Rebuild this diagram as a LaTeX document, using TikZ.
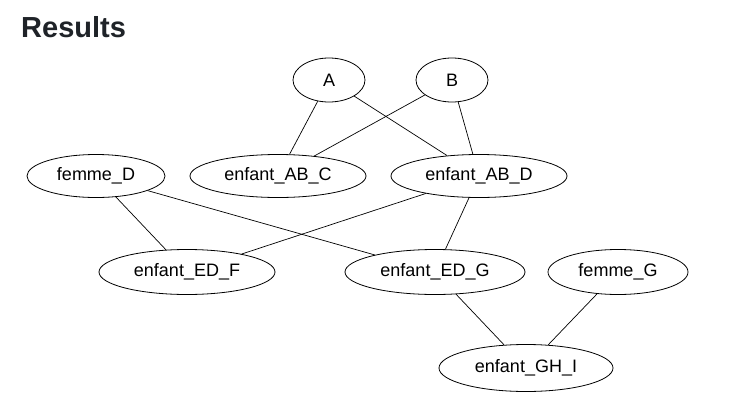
\documentclass[tikz,border=0pt]{standalone}
\usepackage{fontspec}
\setmainfont{Liberation Sans}
\usetikzlibrary{shapes.geometric}
\definecolor{titlecol}{HTML}{1F2328}
\begin{document}
\begin{tikzpicture}[x=1pt,y=-1pt,
  nd/.style={ellipse,draw,line width=0.8pt,inner sep=0pt,font=\fontsize{18}{20}\selectfont},
  ln/.style={line width=0.7pt}]
\useasboundingbox (0,0) rectangle (734,407);
\fill[white] (0,0) rectangle (734,407);
\node[anchor=base west,inner sep=0pt,text=titlecol,font=\fontsize{29}{32}\selectfont\bfseries] (title) at (21,37) {Results};
\node[nd,minimum width=72pt,minimum height=44pt] (A) at (329,80) {A};
\node[nd,minimum width=72pt,minimum height=44pt] (B) at (452,80) {B};
\node[nd,minimum width=176pt,minimum height=43pt] (ABC) at (278,176) {enfant\_AB\_C};
\node[nd,minimum width=176pt,minimum height=43pt] (ABD) at (479,176) {enfant\_AB\_D};
\node[nd,minimum width=138pt,minimum height=43pt] (FD) at (96,176) {femme\_D};
\node[nd,minimum width=176pt,minimum height=45pt] (EDF) at (187,272) {enfant\_ED\_F};
\node[nd,minimum width=180pt,minimum height=45pt] (EDG) at (435,272) {enfant\_ED\_G};
\node[nd,minimum width=140pt,minimum height=45pt] (FG) at (618,272) {femme\_G};
\node[nd,minimum width=174pt,minimum height=47pt] (GHI) at (526,368) {enfant\_GH\_I};
\draw[ln] (A) -- (ABC);
\draw[ln] (A) -- (ABD);
\draw[ln] (B) -- (ABC);
\draw[ln] (B) -- (ABD);
\draw[ln] (FD) -- (EDF);
\draw[ln] (FD) -- (EDG);
\draw[ln] (ABD) -- (EDF);
\draw[ln] (ABD) -- (EDG);
\draw[ln] (EDG) -- (GHI);
\draw[ln] (FG) -- (GHI);
\end{tikzpicture}
\end{document}
